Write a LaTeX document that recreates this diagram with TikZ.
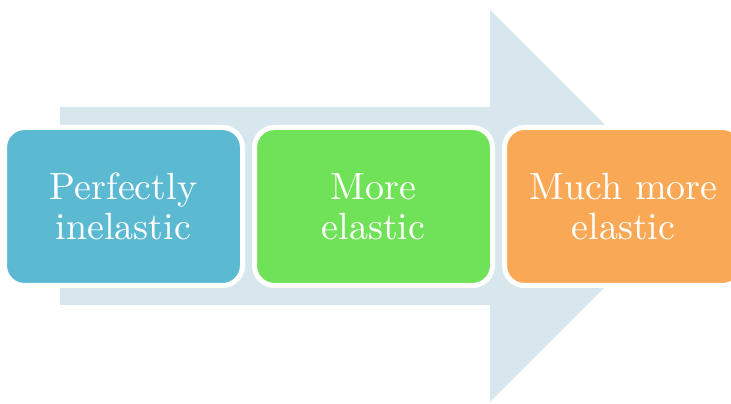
\documentclass[tikz,border=0pt]{standalone}
\usepackage{graphicx}
\usepackage{tikz}
\usetikzlibrary{arrows.meta, positioning, shapes}
\usepackage{xcolor}

\definecolor{arrowbg}{RGB}{216,231,238}
\definecolor{stageblue}{RGB}{92,185,210}
\definecolor{stagegreen}{RGB}{112,226,88}
\definecolor{stageorange}{RGB}{249,168,86}

% zweizeiliger Text, 10pt-Schnitt vergroessert
\newcommand\stagetext[2]{\scalebox{2.16}{\vbox{\fontsize{10}{10.45}\selectfont
	\halign{\hfil##\hfil\cr #1\cr #2\cr}}}}

\begin{document}
\begin{tikzpicture}[
	stagebox/.style={rectangle, rounded corners=0.4cm, draw=white, line width=0.1cm,
		minimum width=4.76cm, minimum height=3.16cm, outer sep=0pt, text=white},
	node distance=0.24cm
	]
	
	% Rahmen des Bildes
	\useasboundingbox (0, 0) rectangle (14.62, 8.06);
	
	% grosser Pfeil im Hintergrund
	\fill[arrowbg] (1.2, 1.96) -- (1.2, 5.92) -- (9.8, 5.92) -- (9.8, 7.86)
		-- (13.72, 3.94) -- (9.8, 0.02) -- (9.8, 1.96) -- cycle;
	
	% Stufe 1
	\node[stagebox, fill=stageblue] (perfect) at (2.47, 3.93) {\stagetext{Perfectly}{inelastic}};
	
	% Stufe 2
	\node[stagebox, fill=stagegreen, right=of perfect] (more) {\stagetext{More}{elastic}};
	
	% Stufe 3
	\node[stagebox, fill=stageorange, right=of more] (muchmore) {\stagetext{Much more}{elastic}};
	
\end{tikzpicture}
\end{document}
